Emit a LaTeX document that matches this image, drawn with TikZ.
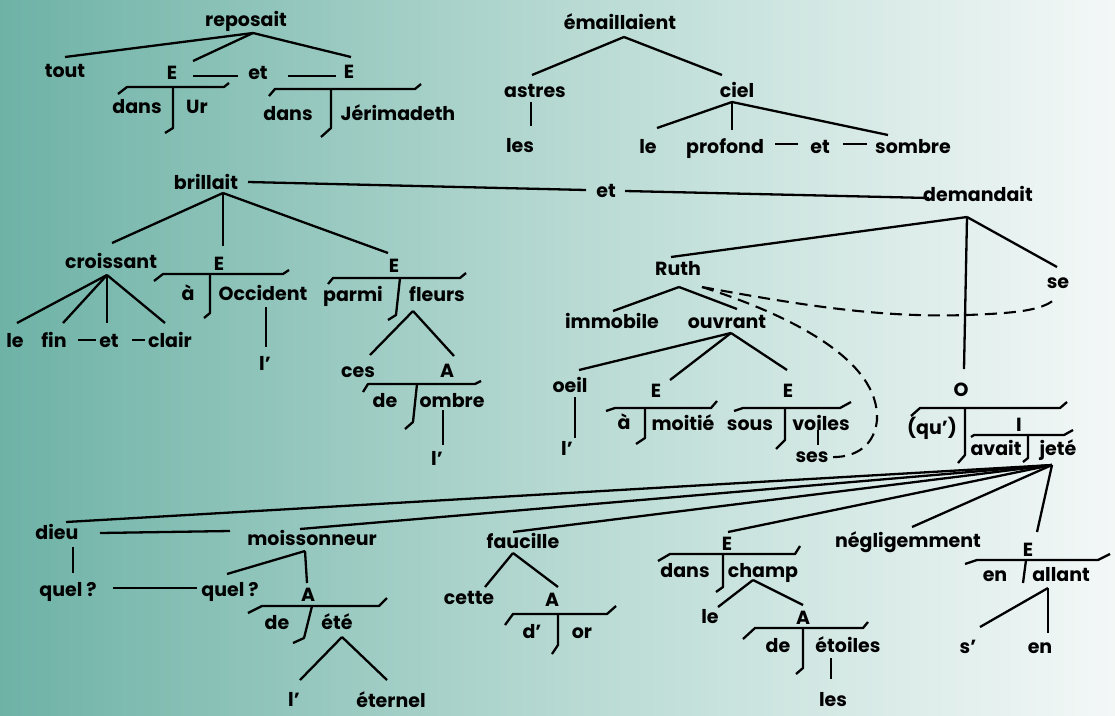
\documentclass[tikz,border=0pt]{standalone}
\usepackage{fontspec}
\setmainfont{Poppins}
\definecolor{bgl}{RGB}{110,178,166}
\definecolor{bgm}{RGB}{182,217,210}
\definecolor{bgr}{RGB}{243,248,247}
\tikzset{
  lbl/.style={anchor=base, inner sep=0pt, font=\fontsize{19}{23}\selectfont\bfseries},
  ln/.style={line width=2.3pt, line join=round},
  dsh/.style={line width=2.1pt, dash pattern=on 12pt off 7pt},
}
\begin{document}
\begin{tikzpicture}[x=1pt,y=-1pt]
\shade[left color=bgl, right color=bgr, middle color=bgm] (0,0) rectangle (1115,715);
\useasboundingbox (0,0) rectangle (1115,715);

% ---------- tree 1: reposait ----------
\node[lbl] (reposait) at (246,26) {reposait};
\node[lbl] (tout) at (65,77) {tout};
\node[lbl] (E1) at (172,79) {E};
\node[lbl] (et1) at (258,79) {et};
\node[lbl] (E2) at (349,78) {E};
\node[lbl] (dans1) at (137,113) {dans};
\node[lbl] (Ur) at (197,113) {Ur};
\node[lbl] (dans2) at (288,120) {dans};
\node[lbl] (jerim) at (398,120) {Jérimadeth};
\coordinate (rep-b) at (253,33);
\coordinate (tout-t) at (65,57);
\coordinate (E1-t) at (193,61);
\coordinate (E2-t) at (351,57);
\coordinate (E1-r) at (193,76);
\coordinate (et1-l) at (238,76);
\coordinate (et1-r) at (288,76);
\coordinate (E2-l) at (336,76);
\draw[ln] (rep-b) -- (tout-t);
\draw[ln] (rep-b) -- (E1-t);
\draw[ln] (rep-b) -- (E2-t);
\draw[ln] (E1-r) -- (et1-l);
\draw[ln] (et1-r) -- (E2-l);
\draw[ln] (118,94) -- (127,87) -- (224,87) -- (229,83);
\draw[ln] (173,87) -- (173,128) -- (165,133);
\draw[ln] (269,96) -- (275,89) -- (415,89) -- (421,84);
\draw[ln] (331,89) -- (331,128) -- (321,137);

% ---------- tree 2: emaillaient ----------
\node[lbl] (emaill) at (620,29) {émaillaient};
\node[lbl] (astres) at (535,97) {astres};
\node[lbl] (ciel) at (737,97) {ciel};
\node[lbl] (les1) at (520,152) {les};
\node[lbl] (le1) at (648,153) {le};
\node[lbl] (profond) at (725,153) {profond};
\node[lbl] (et2) at (820,153) {et};
\node[lbl] (sombre) at (913,153) {sombre};
\coordinate (em-b) at (624,37);
\coordinate (astres-t) at (532,75);
\coordinate (ciel-t) at (722,75);
\coordinate (astres-b) at (531,102);
\coordinate (les1-t) at (531,126);
\coordinate (ciel-b) at (732,102);
\coordinate (le1-t) at (657,128);
\coordinate (prof-t) at (732,130);
\coordinate (somb-t) at (888,135);
\coordinate (prof-r) at (775,144);
\coordinate (et2-l) at (798,144);
\coordinate (et2-r) at (843,144);
\coordinate (somb-l) at (867,144);
\draw[ln] (em-b) -- (astres-t);
\draw[ln] (em-b) -- (ciel-t);
\draw[ln] (astres-b) -- (les1-t);
\draw[ln] (ciel-b) -- (le1-t);
\draw[ln] (ciel-b) -- (prof-t);
\draw[ln] (ciel-b) -- (somb-t);
\draw[ln] (prof-r) -- (et2-l);
\draw[ln] (et2-r) -- (somb-l);

% ---------- tree 3: brillait ----------
\node[lbl] (brillait) at (206,189) {brillait};
\node[lbl] (croissant) at (111,268) {croissant};
\node[lbl] (Eb1) at (219,270) {E};
\node[lbl] (Eb2) at (394,272) {E};
\node[lbl] (le2) at (15,347) {le};
\node[lbl] (fin) at (54,347) {fin};
\node[lbl] (et3) at (109,347) {et};
\node[lbl] (clair) at (170,347) {clair};
\node[lbl] (a1) at (188,300) {à};
\node[lbl] (occ) at (263,300) {Occident};
\node[lbl] (lap1) at (265,370) {l’};
\node[lbl] (parmi) at (353,301) {parmi};
\node[lbl] (fleurs) at (437,301) {fleurs};
\node[lbl] (ces) at (358,377) {ces};
\node[lbl] (A1) at (447,377) {A};
\node[lbl] (de1) at (385,407) {de};
\node[lbl] (ombre) at (452,407) {ombre};
\node[lbl] (lap2) at (437,465) {l’};
\coordinate (bri-b) at (223,193);
\coordinate (cro-t) at (112,243);
\coordinate (Eb1-t) at (223,246);
\coordinate (Eb2-t) at (388,253);
\coordinate (cro-b) at (107,275);
\coordinate (le2-t) at (17,323);
\coordinate (fin-t) at (63,323);
\coordinate (et3-t) at (107,323);
\coordinate (clair-t) at (165,323);
\coordinate (fin-r) at (78,340);
\coordinate (et3-l) at (96,340);
\coordinate (et3-r) at (132,340);
\coordinate (clair-l) at (145,340);
\coordinate (occ-b) at (266,307);
\coordinate (lap1-t) at (266,347);
\coordinate (fle-b) at (413,311);
\coordinate (ces-t) at (370,355);
\coordinate (A1-t) at (454,356);
\coordinate (omb-b) at (443,410);
\coordinate (lap2-t) at (443,445);
\draw[ln] (bri-b) -- (cro-t);
\draw[ln] (bri-b) -- (Eb1-t);
\draw[ln] (bri-b) -- (Eb2-t);
\draw[ln] (cro-b) -- (le2-t);
\draw[ln] (cro-b) -- (fin-t);
\draw[ln] (cro-b) -- (et3-t);
\draw[ln] (cro-b) -- (clair-t);
\draw[ln] (fin-r) -- (et3-l);
\draw[ln] (et3-r) -- (clair-l);
\draw[ln] (154,281) -- (163,274) -- (283,274) -- (289,270);
\draw[ln] (210,274) -- (210,313) -- (204,318);
\draw[ln] (occ-b) -- (lap1-t);
\draw[ln] (328,284) -- (333,278) -- (460,278) -- (466,273);
\draw[ln] (400,278) -- (396,315) -- (388,320);
\draw[ln] (fle-b) -- (ces-t);
\draw[ln] (fle-b) -- (A1-t);
\draw[ln] (363,392) -- (368,384) -- (475,384) -- (481,381);
\draw[ln] (417,384) -- (413,422) -- (405,429);
\draw[ln] (omb-b) -- (lap2-t);

% ---------- coordination brillait - et - demandait ----------
\node[lbl] (et4) at (606,197) {et};
\node[lbl] (demandait) at (978,201) {demandait};
\coordinate (bri-r) at (248,182);
\coordinate (et4-l) at (586,190);
\coordinate (et4-r) at (625,191);
\coordinate (dem-l) at (929,198);
\draw[ln] (bri-r) -- (et4-l);
\draw[ln] (et4-r) -- (dem-l);

% ---------- tree 4: demandait ----------
\node[lbl] (ruth) at (678,275) {Ruth};
\node[lbl] (se) at (1058,288) {se};
\node[lbl] (immobile) at (612,328) {immobile};
\node[lbl] (ouvrant) at (727,328) {ouvrant};
\node[lbl] (oeil) at (570,392) {oeil};
\node[lbl] (lap3) at (567,455) {l’};
\node[lbl] (Eo1) at (656,397) {E};
\node[lbl] (Eo2) at (788,397) {E};
\node[lbl] (a2) at (624,429) {à};
\node[lbl] (moitie) at (683,430) {moitié};
\node[lbl] (sous) at (750,430) {sous};
\node[lbl] (voiles) at (821,430) {voiles};
\node[lbl] (ses) at (812,462) {ses};
\node[lbl] (O) at (961,396) {O};
\node[lbl] (qu) at (932,434) {(qu’)};
\node[lbl] (I) at (1019,431) {I};
\node[lbl] (avait) at (996,455) {avait};
\node[lbl] (jete) at (1058,455) {jeté};
\coordinate (dem-b) at (967,217);
\coordinate (ruth-t) at (671,257);
\coordinate (se-t) at (1057,267);
\coordinate (O-t) at (964,369);
\coordinate (ruth-b) at (679,287);
\coordinate (imm-t) at (613,311);
\coordinate (ouv-t) at (737,309);
\coordinate (ouv-b) at (731,333);
\coordinate (oeil-t) at (579,370);
\coordinate (Eo1-t) at (670,380);
\coordinate (Eo2-t) at (787,370);
\coordinate (oeil-b) at (575,397);
\coordinate (lap3-t) at (575,438);
\coordinate (voi-b) at (818,430);
\coordinate (ses-t) at (818,445);
\coordinate (ruth-tip) at (702,287);
\coordinate (se-b) at (1057,297);
\coordinate (ses-r) at (830,457);
\draw[ln] (dem-b) -- (ruth-t);
\draw[ln] (dem-b) -- (se-t);
\draw[ln] (dem-b) -- (O-t);
\draw[ln] (ruth-b) -- (imm-t);
\draw[ln] (ruth-b) -- (ouv-t);
\draw[ln] (ouv-b) -- (oeil-t);
\draw[ln] (ouv-b) -- (Eo1-t);
\draw[ln] (ouv-b) -- (Eo2-t);
\draw[ln] (oeil-b) -- (lap3-t);
\draw[ln] (606,411) -- (615,408) -- (711,408) -- (717,401);
\draw[ln] (645,408) -- (645,438) -- (636,444);
\draw[ln] (734,411) -- (743,408) -- (840,408) -- (851,402);
\draw[ln] (785,408) -- (785,440) -- (776,449);
\draw[ln] (voi-b) -- (ses-t);
\draw[ln] (911,416) -- (920,408) -- (1060,408) -- (1067,402);
\draw[ln] (965,408) -- (965,455) -- (958,463);
\draw[ln] (971,437) -- (974,435) -- (1064,435) -- (1073,430);
\draw[ln] (1028,435) -- (1028,458) -- (1023,462);
\draw[dsh] (ruth-tip) .. controls (800,305) and (880,318) .. (967,315)
           .. controls (1020,313) and (1045,310) .. (se-b);
\draw[dsh] (ruth-tip) .. controls (790,315) and (880,360) .. (877,420)
           .. controls (874,450) and (850,458) .. (ses-r);

% ---------- fan from jete ----------
\node[lbl] (dieu) at (57,539) {dieu};
\node[lbl] (moiss) at (312,545) {moissonneur};
\node[lbl] (faucille) at (523,548) {faucille};
\node[lbl] (Ec) at (727,550) {E};
\node[lbl] (neg) at (908,547) {négligemment};
\node[lbl] (Ea) at (1028,556) {E};
\coordinate (jete-b) at (1052,465);
\coordinate (dieu-t) at (66,522);
\coordinate (moiss-t) at (300,529);
\coordinate (fau-t) at (513,532);
\coordinate (Ec-t) at (728,532);
\coordinate (neg-t) at (912,527);
\coordinate (Ea-t) at (1037,532);
\draw[ln] (jete-b) -- (dieu-t);
\draw[ln] (jete-b) -- (moiss-t);
\draw[ln] (jete-b) -- (fau-t);
\draw[ln] (jete-b) -- (Ec-t);
\draw[ln] (jete-b) -- (neg-t);
\draw[ln] (jete-b) -- (Ea-t);

% dieu / moissonneur
\node[lbl] (quel1) at (68,596) {quel ?};
\node[lbl] (quel2) at (230,596) {quel ?};
\node[lbl] (Am) at (308,601) {A};
\node[lbl] (de2) at (277,629) {de};
\node[lbl] (ete) at (337,629) {été};
\node[lbl] (lap4) at (294,706) {l’};
\node[lbl] (eternel) at (391,707) {éternel};
\coordinate (dieu-r) at (100,533);
\coordinate (moiss-l) at (230,531);
\coordinate (dieu-b) at (73,547);
\coordinate (quel1-t) at (73,573);
\coordinate (quel1-r) at (113,588);
\coordinate (quel2-l) at (197,588);
\coordinate (moiss-b) at (305,551);
\coordinate (quel2-t) at (227,574);
\coordinate (Am-t) at (307,583);
\coordinate (ete-b) at (342,637);
\coordinate (lap4-t) at (300,680);
\coordinate (etern-t) at (387,680);
\draw[ln] (dieu-r) -- (moiss-l);
\draw[ln] (dieu-b) -- (quel1-t);
\draw[ln] (quel1-r) -- (quel2-l);
\draw[ln] (moiss-b) -- (quel2-t);
\draw[ln] (moiss-b) -- (Am-t);
\draw[ln] (248,613) -- (262,606) -- (379,606) -- (387,598);
\draw[ln] (312,606) -- (304,638) -- (293,643);
\draw[ln] (ete-b) -- (lap4-t);
\draw[ln] (ete-b) -- (etern-t);

% faucille
\node[lbl] (cette) at (469,604) {cette};
\node[lbl] (Af) at (552,606) {A};
\node[lbl] (dap) at (532,638) {d’};
\node[lbl] (or) at (582,638) {or};
\coordinate (fau-b) at (513,553);
\coordinate (cette-t) at (485,587);
\coordinate (Af-t) at (558,587);
\draw[ln] (fau-b) -- (cette-t);
\draw[ln] (fau-b) -- (Af-t);
\draw[ln] (505,625) -- (513,614) -- (607,614) -- (616,606);
\draw[ln] (558,614) -- (558,645) -- (552,654);

% dans champ
\node[lbl] (dans3) at (685,577) {dans};
\node[lbl] (champ) at (763,577) {champ};
\node[lbl] (le3) at (710,623) {le};
\node[lbl] (Ach) at (803,624) {A};
\node[lbl] (de3) at (778,652) {de};
\node[lbl] (etoiles) at (848,652) {étoiles};
\node[lbl] (les2) at (833,706) {les};
\coordinate (champ-b) at (753,580);
\coordinate (le3-t) at (718,607);
\coordinate (Ach-t) at (803,605);
\coordinate (eto-b) at (831,658);
\coordinate (les2-t) at (831,679);
\draw[ln] (658,561) -- (670,554) -- (795,554) -- (800,546);
\draw[ln] (723,554) -- (723,587) -- (716,592);
\draw[ln] (champ-b) -- (le3-t);
\draw[ln] (champ-b) -- (Ach-t);
\draw[ln] (743,639) -- (755,628) -- (863,628) -- (868,622);
\draw[ln] (803,628) -- (803,668) -- (796,674);
\draw[ln] (eto-b) -- (les2-t);

% en allant
\node[lbl] (en1) at (995,581) {en};
\node[lbl] (allant) at (1061,581) {allant};
\node[lbl] (sap) at (968,653) {s’};
\node[lbl] (en2) at (1040,653) {en};
\coordinate (allant-b) at (1048,588);
\coordinate (sap-t) at (980,627);
\coordinate (en2-t) at (1048,633);
\draw[ln] (965,564) -- (977,560) -- (1098,560) -- (1110,554);
\draw[ln] (1026,560) -- (1023,583);
\draw[ln] (allant-b) -- (sap-t);
\draw[ln] (allant-b) -- (en2-t);
\end{tikzpicture}
\end{document}
